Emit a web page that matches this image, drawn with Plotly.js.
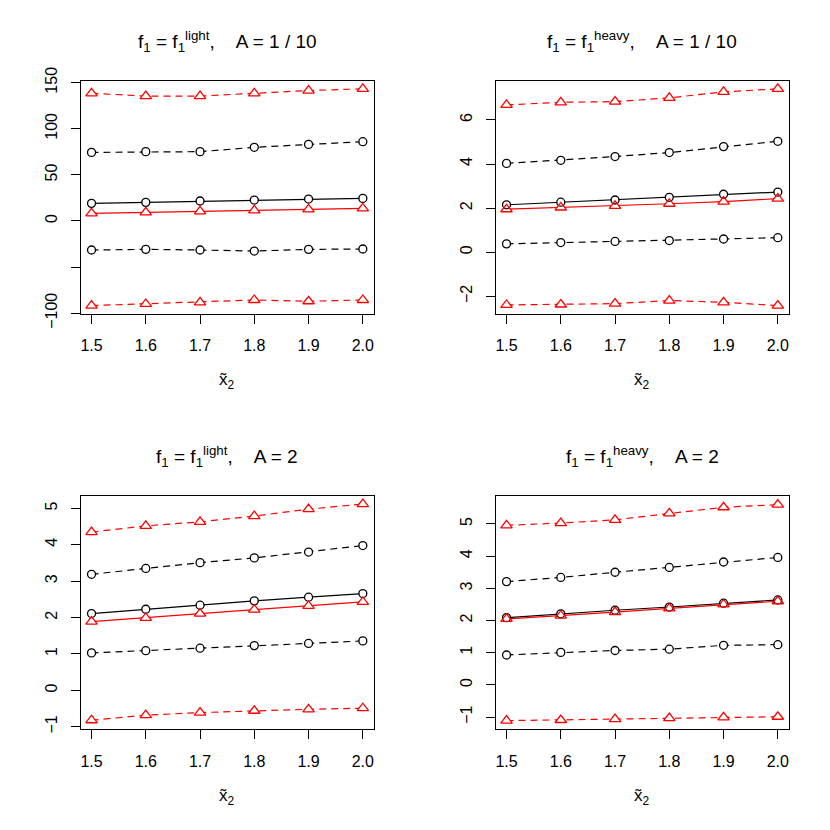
<!DOCTYPE html>
<html>
<head>
<meta charset="utf-8">
<script src="https://cdn.plot.ly/plotly-3.0.1.min.js"></script>
<style>body{margin:0;} #plotArea{width:830px;height:830px;}</style>
</head>
<body>
<div id="plotArea"></div>
<script>
var x2 = [1.5, 1.6, 1.7, 1.8, 1.9, 2.0];

// panel 1: light, A = 1/10
var p1BlackMid = [19.1, 20.2, 21.7, 22.7, 23.8, 24.5];
var p1BlackUp = [74.4, 75.2, 75.2, 79.9, 83.1, 86.0];
var p1BlackLow = [-31.5, -30.8, -31.5, -32.6, -30.8, -30.4];
var p1RedMid = [8.3, 9.4, 10.5, 11.6, 12.6, 13.7];
var p1RedUp = [138.5, 135.5, 135.5, 138.5, 141.5, 143.3];
var p1RedLow = [-91.8, -90.0, -88.2, -85.7, -87.1, -85.7];

// panel 2: heavy, A = 1/10
var p2BlackMid = [2.15, 2.27, 2.37, 2.49, 2.63, 2.73];
var p2BlackUp = [4.03, 4.17, 4.34, 4.52, 4.79, 5.03];
var p2BlackLow = [0.38, 0.44, 0.49, 0.53, 0.60, 0.66];
var p2RedMid = [1.95, 2.03, 2.10, 2.20, 2.30, 2.43];
var p2RedUp = [6.68, 6.80, 6.83, 7.00, 7.27, 7.41];
var p2RedLow = [-2.39, -2.37, -2.33, -2.19, -2.27, -2.42];

// panel 3: light, A = 2
var p3BlackMid = [2.11, 2.23, 2.34, 2.46, 2.56, 2.66];
var p3BlackUp = [3.19, 3.35, 3.51, 3.64, 3.80, 3.98];
var p3BlackLow = [1.03, 1.09, 1.16, 1.23, 1.29, 1.36];
var p3RedMid = [1.89, 1.99, 2.11, 2.22, 2.32, 2.43];
var p3RedUp = [4.35, 4.52, 4.63, 4.79, 4.98, 5.12];
var p3RedLow = [-0.82, -0.68, -0.61, -0.56, -0.52, -0.49];

// panel 4: heavy, A = 2
var p4BlackMid = [2.09, 2.21, 2.32, 2.42, 2.54, 2.64];
var p4BlackUp = [3.21, 3.34, 3.50, 3.65, 3.82, 3.96];
var p4BlackLow = [0.93, 1.01, 1.07, 1.11, 1.23, 1.25];
var p4RedMid = [2.05, 2.15, 2.26, 2.38, 2.50, 2.60];
var p4RedUp = [4.96, 5.03, 5.13, 5.33, 5.52, 5.60];
var p4RedLow = [-1.11, -1.09, -1.06, -1.03, -1.01, -0.99];

var titles = [
    "f<sub>1</sub> = f<sub>1</sub><sup>light</sup>,\u00a0\u00a0\u00a0\u00a0A = 1 / 10",
    "f<sub>1</sub> = f<sub>1</sub><sup>heavy</sup>,\u00a0\u00a0\u00a0\u00a0A = 1 / 10",
    "f<sub>1</sub> = f<sub>1</sub><sup>light</sup>,\u00a0\u00a0\u00a0\u00a0A = 2",
    "f<sub>1</sub> = f<sub>1</sub><sup>heavy</sup>,\u00a0\u00a0\u00a0\u00a0A = 2"
];

var panels = [
    {black: [p1BlackMid, p1BlackUp, p1BlackLow], red: [p1RedMid, p1RedUp, p1RedLow],
     xd: [0.0972, 0.4502], yd: [0.6217, 0.9028], range: [-100.9, 152.2],
     tickvals: [-100, -50, 0, 50, 100, 150], ticktext: ["\u2212100", "", "0", "50", "100", "150"]},
    {black: [p2BlackMid, p2BlackUp, p2BlackLow], red: [p2RedMid, p2RedUp, p2RedLow],
     xd: [0.5972, 0.9502], yd: [0.6217, 0.9028], range: [-2.80, 7.78],
     tickvals: [-2, 0, 2, 4, 6], ticktext: ["\u22122", "0", "2", "4", "6"]},
    {black: [p3BlackMid, p3BlackUp, p3BlackLow], red: [p3RedMid, p3RedUp, p3RedLow],
     xd: [0.0972, 0.4502], yd: [0.1213, 0.4028], range: [-1.07, 5.35],
     tickvals: [-1, 0, 1, 2, 3, 4, 5], ticktext: ["\u22121", "0", "1", "2", "3", "4", "5"]},
    {black: [p4BlackMid, p4BlackUp, p4BlackLow], red: [p4RedMid, p4RedUp, p4RedLow],
     xd: [0.5972, 0.9502], yd: [0.1213, 0.4028], range: [-1.38, 5.88],
     tickvals: [-1, 0, 1, 2, 3, 4, 5], ticktext: ["\u22121", "0", "1", "2", "3", "4", "5"]}
];

var font = "Liberation Sans, Arial, sans-serif";
var data = [];
var layout = {
    width: 830, height: 830,
    margin: {l: 0, r: 0, t: 0, b: 0},
    paper_bgcolor: "white", plot_bgcolor: "white",
    showlegend: false,
    font: {family: font, size: 16, color: "black"},
    annotations: []
};

panels.forEach(function(p, i) {
    var n = i + 1;
    var xa = n === 1 ? "x" : "x" + n;
    var ya = n === 1 ? "y" : "y" + n;
    var series = [];
    p.black.forEach(function(y, k) {
        series.push({y: y, color: "black", dash: k === 0 ? "solid" : "7px,5px", sym: "circle", size: 8});
    });
    p.red.forEach(function(y, k) {
        series.push({y: y, color: "red", dash: k === 0 ? "solid" : "7px,5px", sym: "triangle-up", size: 10});
    });
    // lines
    series.forEach(function(s) {
        data.push({x: x2, y: s.y, xaxis: xa, yaxis: ya, mode: "lines", hoverinfo: "skip",
                   line: {color: s.color, width: 1.2, dash: s.dash}});
    });
    // hollow the symbols
    series.forEach(function(s) {
        data.push({x: x2, y: s.y, xaxis: xa, yaxis: ya, mode: "markers", hoverinfo: "skip",
                   marker: {symbol: s.sym, size: s.size - 1, color: "white", line: {width: 0}}});
    });
    series.forEach(function(s) {
        data.push({x: x2, y: s.y, xaxis: xa, yaxis: ya, mode: "markers",
                   marker: {symbol: s.sym + "-open", size: s.size, color: s.color, line: {color: s.color, width: 1.3}}});
    });

    var axBase = {showgrid: false, zeroline: false, showline: true, mirror: true,
                  linecolor: "black", linewidth: 1, ticks: "outside", ticklen: 9,
                  tickwidth: 1, tickcolor: "black", tickfont: {family: font, size: 16, color: "black"}};
    layout["xaxis" + (n === 1 ? "" : n)] = Object.assign({}, axBase, {
        domain: p.xd, anchor: ya, range: [1.48, 2.02],
        tickvals: x2, ticktext: ["1.5", "1.6", "1.7", "1.8", "1.9", "2.0"],
        ticklabelstandoff: 8
    });
    layout["yaxis" + (n === 1 ? "" : n)] = Object.assign({}, axBase, {
        domain: p.yd, anchor: xa, range: p.range,
        tickvals: p.tickvals, ticktext: p.ticktext, tickangle: -90,
        ticklabelstandoff: 7
    });

    var cx = (p.xd[0] + p.xd[1]) / 2;
    var top = i < 2;
    layout.annotations.push({
        text: titles[i], xref: "paper", yref: "paper", x: cx, y: top ? 0.9494 : 0.4498,
        xanchor: "center", yanchor: "middle", showarrow: false,
        font: {family: font, size: 19, color: "black"}
    });
    layout.annotations.push({
        text: "x\u0303<sub>2</sub>", xref: "paper", yref: "paper", x: cx, y: top ? 0.541 : 0.0398,
        xanchor: "center", yanchor: "middle", showarrow: false,
        font: {family: font, size: 17, color: "black"}
    });
});

Plotly.newPlot("plotArea", data, layout, {displayModeBar: false, staticPlot: true});
</script>
</body>
</html>
